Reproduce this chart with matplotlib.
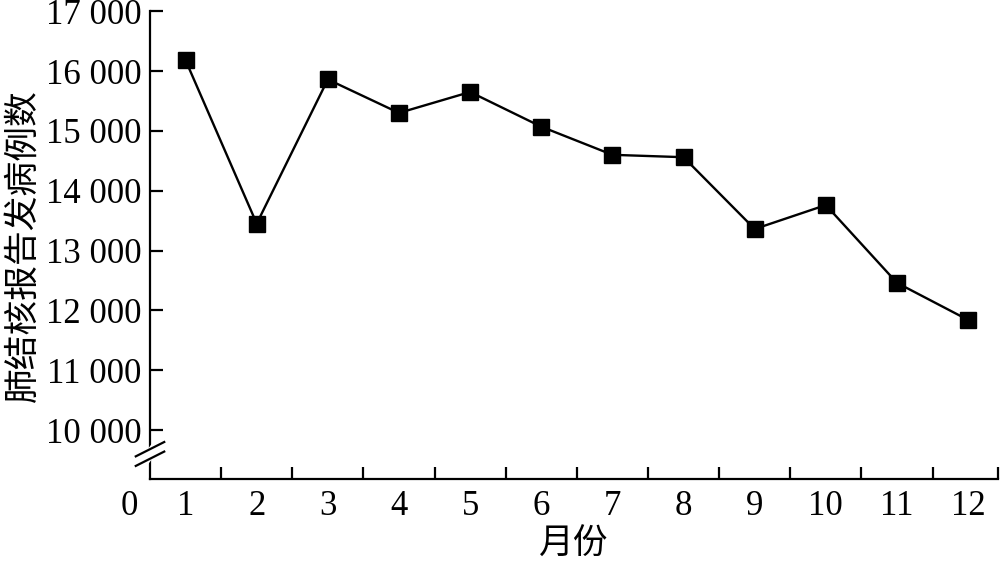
import matplotlib.pyplot as plt
import numpy as np
from matplotlib.ticker import FixedLocator

plt.rcParams['font.family'] = ['Liberation Serif', 'Noto Sans CJK SC']

months = [1, 2, 3, 4, 5, 6, 7, 8, 9, 10, 11, 12]
cases = [16180, 13450, 15860, 15300, 15650, 15070, 14600, 14560, 13360, 13760, 12460, 11840]
yticks = [10000, 11000, 12000, 13000, 14000, 15000, 16000, 17000]
ytick_labels = ['10 000', '11 000', '12 000', '13 000', '14 000', '15 000', '16 000', '17 000']

fig = plt.figure(figsize=(10, 5.61), dpi=100)
ax = fig.add_axes([0.15, 0.146, 0.848, 0.834])

ax.plot(months, cases, color='black', lw=1.7, marker='s', markersize=12)

xmax = 12.42
ax.set_xlim(0.5, xmax)
ax.set_ylim(9180, 17000)

ax.set_xticks(months)
ax.set_xticklabels([str(m) for m in months])
ax.xaxis.set_minor_locator(FixedLocator(list(np.arange(1.5, 12, 1)) + [xmax]))
ax.tick_params(axis='x', which='major', length=0, pad=8, labelsize=25)
ax.tick_params(axis='x', which='minor', direction='in', length=9, width=1.6)

ax.set_yticks(yticks)
ax.set_yticklabels(ytick_labels)
ax.tick_params(axis='y', direction='in', length=9, width=1.6, pad=6, labelsize=25)

for s in ['top', 'right']:
    ax.spines[s].set_visible(False)
for s in ['left', 'bottom']:
    ax.spines[s].set_linewidth(1.6)

# the "0" at the origin
ax.annotate('0', xy=(0.5, 9180), xytext=(-15, -8), textcoords='offset points',
            ha='center', va='top', fontsize=25, annotation_clip=False)

# axis break marks on the left spine
yb = 9600
dy = 120
ax.fill([0.47, 0.53, 0.53, 0.47], [yb - dy - 40, yb - dy + 60, yb + dy + 40, yb + dy - 60],
        color='white', clip_on=False, zorder=5)
for off in (-80, 80):
    ax.plot([0.3, 0.7], [yb + off - 120, yb + off + 120], color='black', lw=1.6,
            clip_on=False, zorder=6)

ax.set_xlabel('月份', fontsize=25, labelpad=4)
ax.set_ylabel('肺结核报告发病例数', fontsize=25, labelpad=4)

fig.savefig('out.png', dpi=100)
